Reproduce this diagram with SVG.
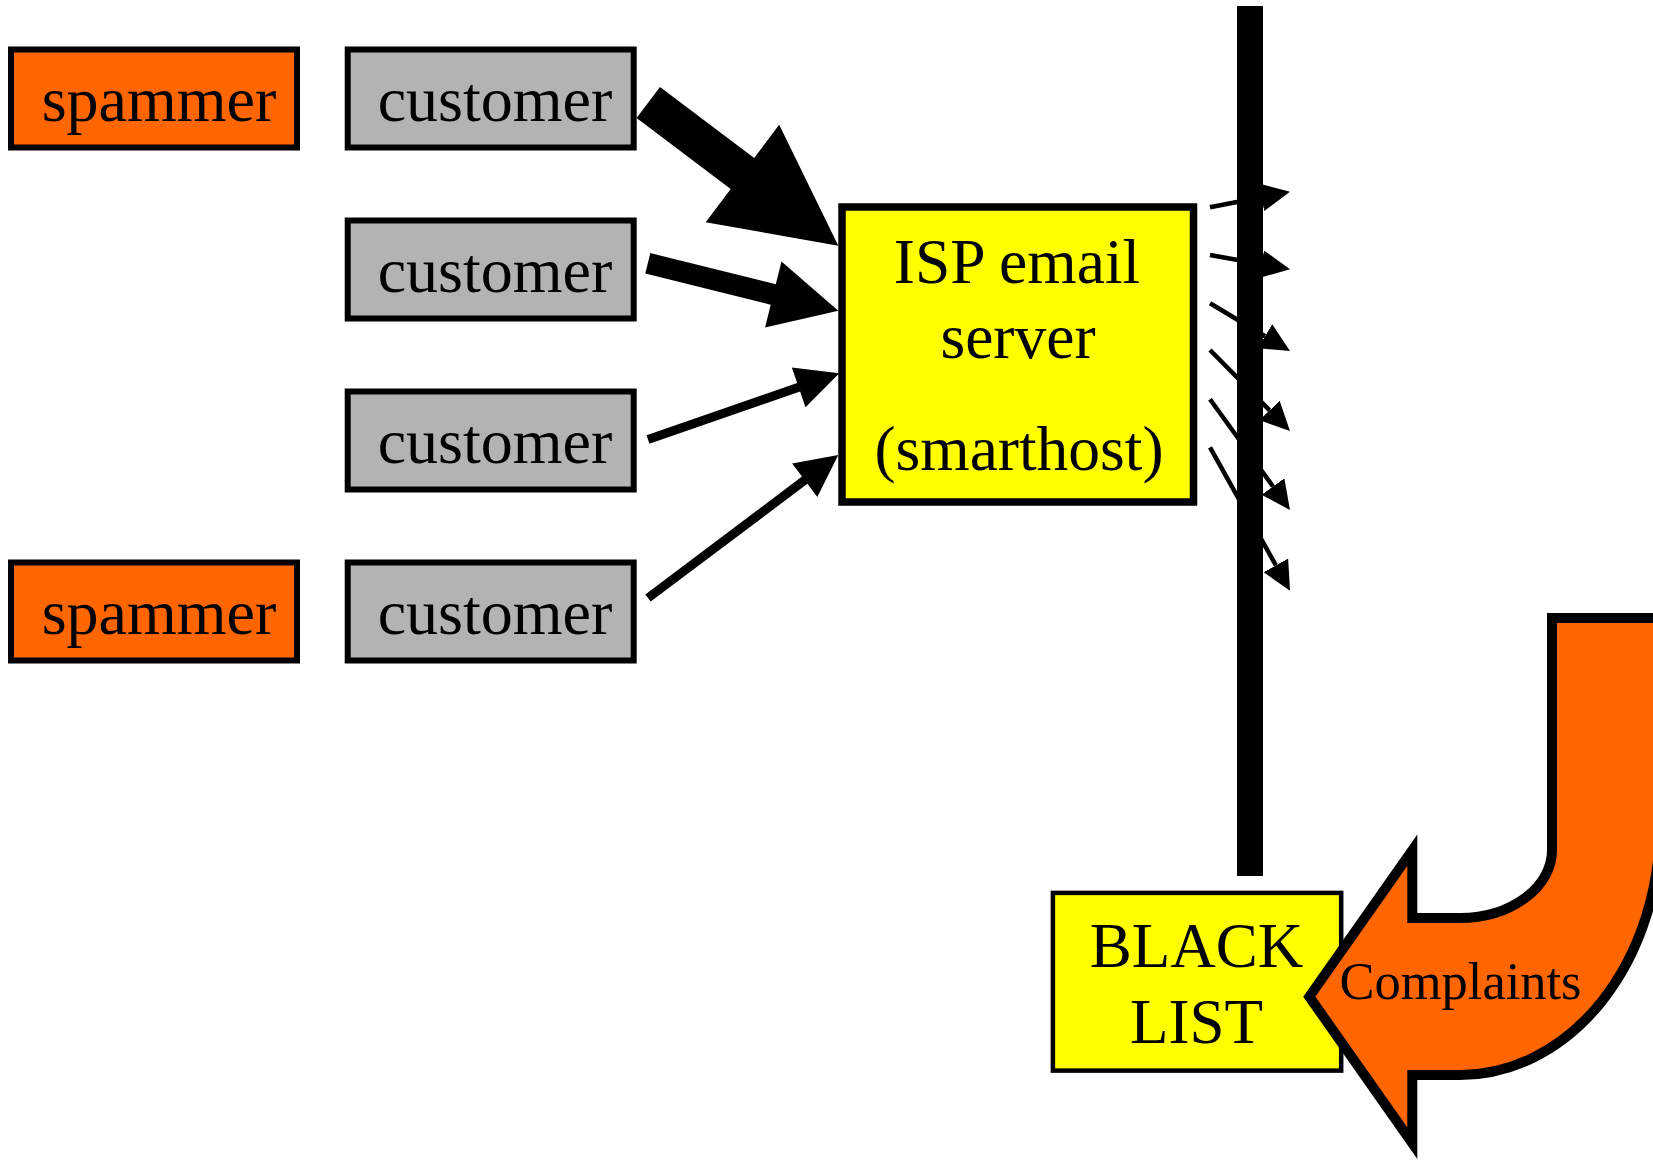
<svg xmlns="http://www.w3.org/2000/svg" width="1653" height="1162" viewBox="0 0 1653 1162">
  <style>
    .box { stroke: #000; stroke-width: 6; }
    .spam { fill: #FF6600; }
    .cust { fill: #B3B3B3; }
    .server { fill: #FFFF00; stroke: #000; stroke-width: 7.5; }
    .black { fill: #FFFF00; stroke: #000; stroke-width: 4.5; }
    .lbl { font-family: "Liberation Serif", "Times New Roman", serif; font-size: 64px; fill: #000; text-anchor: middle; }
    .big { fill: #000; }
    .small { stroke: #000; stroke-width: 4.5; fill: none; marker-end: url(#head); }
    .complaint { fill: #FF6600; stroke: #000; stroke-width: 10; stroke-linejoin: miter; stroke-miterlimit: 10; }
  </style>
  <defs>
    <marker id="head" viewBox="0 0 29 28" refX="0" refY="14" markerWidth="29" markerHeight="28" markerUnits="userSpaceOnUse" orient="auto">
      <path d="M0,0 L29,14 L0,28 z" fill="#000"/>
    </marker>
  </defs>

  <rect width="1653" height="1162" fill="#fff"/>

  <!-- senders -->
  <g id="spammer1">
    <rect class="box spam" x="11" y="49.5" width="286" height="98"/>
    <text class="lbl" x="159" y="121">spammer</text>
  </g>
  <g id="customer1">
    <rect class="box cust" x="347.7" y="49.5" width="286" height="98"/>
    <text class="lbl" x="495" y="121">customer</text>
  </g>
  <g id="customer2">
    <rect class="box cust" x="347.7" y="220.5" width="286" height="98"/>
    <text class="lbl" x="495" y="292">customer</text>
  </g>
  <g id="customer3">
    <rect class="box cust" x="347.7" y="391.5" width="286" height="98"/>
    <text class="lbl" x="495" y="463">customer</text>
  </g>
  <g id="spammer2">
    <rect class="box spam" x="11" y="562.5" width="286" height="98"/>
    <text class="lbl" x="159" y="634">spammer</text>
  </g>
  <g id="customer4">
    <rect class="box cust" x="347.7" y="562.5" width="286" height="98"/>
    <text class="lbl" x="495" y="634">customer</text>
  </g>

  <!-- smarthost -->
  <g id="isp-server">
    <rect class="server" x="842" y="207" width="351.5" height="295"/>
    <text class="lbl" x="1017" y="282.5" style="font-size:63.5px">ISP email</text>
    <text class="lbl" x="1018" y="358" style="font-size:63.5px">server</text>
    <text class="lbl" x="1019" y="470" style="font-size:63.5px">(smarthost)</text>
  </g>

  <!-- blacklist -->
  <g id="blacklist">
    <rect class="black" x="1052.9" y="892.9" width="288.3" height="177.7"/>
    <text class="lbl" x="1196.5" y="966.7" style="font-size:63px">BLACK</text>
    <text class="lbl" x="1196.5" y="1043.3" style="font-size:63px">LIST</text>
  </g>

  <!-- mail flows -->
  <g id="connectors">
    <polygon class="big" points="660.0,86.9 754.2,157.9 779.2,124.8 838.3,245.7 705.7,222.2 730.7,189.0 636.6,118.1"/>
    <polygon class="big" points="650.3,253.1 775.8,284.3 781.5,261.5 838.3,310.7 765.1,327.5 770.7,304.7 645.3,273.5"/>
    <polygon class="big" points="646.6,435.2 797.2,383.1 791.8,367.5 839.3,373.3 805.5,407.2 800.1,391.6 649.4,443.8"/>
    <polygon class="big" points="645.3,594.4 802.0,476.6 792.1,463.4 838.3,455.0 817.3,497.0 807.4,483.8 650.7,601.6"/>

    <path class="small" d="M1210,207.3 L1261.5,197.3"/>
    <path class="small" d="M1210,255 L1261.5,264.2"/>
    <path class="small" d="M1210,303.3 L1265.1,336.2"/>
    <path class="small" d="M1210,350 L1269.6,410.4"/>
    <path class="small" d="M1210,399.3 L1273,486.5"/>
    <path class="small" d="M1210,447.3 L1275.9,565.4"/>
  </g>

  <!-- filter barrier -->
  <g id="barrier">
    <rect x="1237" y="6" width="26" height="870" fill="#000"/>
  </g>

  <!-- complaints U-turn arrow -->
  <g id="complaints">
    <path class="complaint" d="M1664,618 L1552,618 L1552,850 A92,68 0 0 1 1460,918 L1412.3,918 L1412.3,850.2 L1309.3,996.7 L1412.3,1143.2 L1412.3,1075 L1460,1075 A200,250 0 0 0 1660,825 L1664,825 Z"/>
    <text class="lbl" x="1460.5" y="999" style="font-size:52.5px">Complaints</text>
  </g>
</svg>
